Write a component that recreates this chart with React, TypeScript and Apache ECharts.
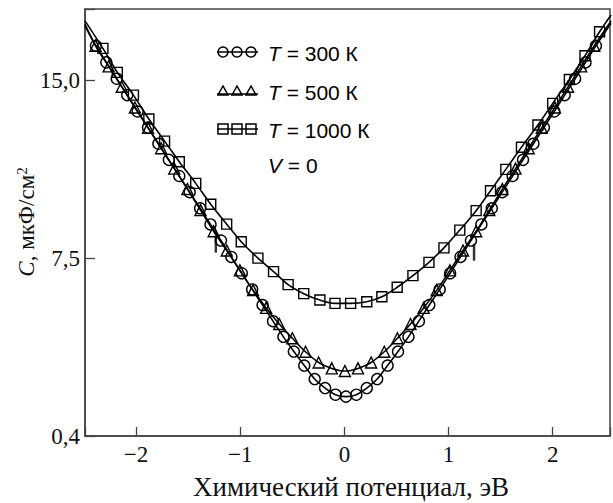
import React, { useEffect, useRef } from "react";
import * as echarts from "echarts";

// x-axis ticks and y-axis tick labels
const xTicks = [-2, -1, 0, 1, 2];
const yTickValues = [0, 7.5, 15];
const yTickLabels = ["0,4", "7,5", "15,0"];

// T = 300 K (circles)
const t300: [number, number][] = [
  [-2.385, 16.45], [-2.285, 15.75], [-2.185, 15.06], [-2.085, 14.37], [-1.985, 13.68],
  [-1.885, 13.0], [-1.785, 12.32], [-1.685, 11.64], [-1.585, 10.96], [-1.485, 10.28],
  [-1.385, 9.6], [-1.285, 8.92], [-1.185, 8.24], [-1.085, 7.55], [-0.985, 6.86],
  [-0.885, 6.18], [-0.785, 5.52], [-0.685, 4.84], [-0.585, 4.18], [-0.485, 3.56],
  [-0.385, 2.97], [-0.285, 2.4], [-0.185, 2.02], [-0.085, 1.74], [0.015, 1.66],
  [0.115, 1.74], [0.215, 2.02], [0.315, 2.4], [0.415, 2.97], [0.515, 3.56],
  [0.615, 4.18], [0.715, 4.84], [0.815, 5.52], [0.915, 6.18], [1.015, 6.86],
  [1.115, 7.55], [1.215, 8.24], [1.315, 8.92], [1.415, 9.6], [1.515, 10.28],
  [1.615, 10.96], [1.715, 11.64], [1.815, 12.32], [1.915, 13.0], [2.015, 13.68],
  [2.115, 14.37], [2.215, 15.06], [2.315, 15.75], [2.415, 16.45],
];
const t300Ends: [number, number][] = [[-2.49, 17.28], [2.56, 17.4]];

// T = 500 K (triangles)
const t500: [number, number][] = [
  [-2.389, 16.45], [-2.263, 15.58], [-2.137, 14.72], [-2.011, 13.85], [-1.885, 12.99],
  [-1.759, 12.13], [-1.633, 11.27], [-1.507, 10.41], [-1.381, 9.52], [-1.255, 8.63],
  [-1.129, 7.82], [-1.003, 6.98], [-0.877, 6.15], [-0.751, 5.4], [-0.625, 4.72],
  [-0.499, 4.12], [-0.373, 3.55], [-0.247, 3.1], [-0.121, 2.85], [0.005, 2.74],
  [0.131, 2.85], [0.257, 3.1], [0.383, 3.55], [0.509, 4.12], [0.635, 4.72],
  [0.761, 5.4], [0.887, 6.15], [1.013, 6.98], [1.139, 7.82], [1.265, 8.63],
  [1.391, 9.52], [1.517, 10.41], [1.643, 11.27], [1.769, 12.13], [1.895, 12.99],
  [2.021, 13.85], [2.147, 14.72], [2.273, 15.58], [2.399, 16.45],
];
const t500Ends: [number, number][] = [[-2.49, 17.35], [2.56, 17.5]];

// T = 1000 K (squares)
const t1000: [number, number][] = [
  [-2.318, 16.34], [-2.18, 15.33], [-2.025, 14.37], [-1.877, 13.36], [-1.726, 12.43],
  [-1.585, 11.56], [-1.427, 10.65], [-1.283, 9.77], [-1.13, 8.93], [-0.99, 8.19],
  [-0.83, 7.5], [-0.68, 6.93], [-0.54, 6.38], [-0.39, 6.0], [-0.235, 5.73],
  [-0.09, 5.59], [0.06, 5.59], [0.215, 5.66], [0.36, 5.87], [0.507, 6.27],
  [0.658, 6.76], [0.812, 7.32], [0.956, 7.93], [1.108, 8.68], [1.265, 9.5],
  [1.403, 10.34], [1.55, 11.24], [1.7, 12.17], [1.858, 13.11], [2.0, 14.02],
  [2.16, 15.03], [2.31, 16.03], [2.45, 17.04],
];
const t1000Ends: [number, number][] = [[-2.49, 17.5], [2.56, 17.75]];

// short vertical marks on the curves
const marks: [number, number][] = [[-1.234, 8.09], [1.245, 7.75]];

const SERIF = '"Liberation Serif", "Times New Roman", serif';
const SANS = '"Liberation Sans", Arial, sans-serif';

function withEnds(pts: [number, number][], ends: [number, number][]) {
  return [
    { value: ends[0], symbol: "none" },
    ...pts.map((p) => ({ value: p })),
    { value: ends[1], symbol: "none" },
  ];
}

export default function App() {
  const ref = useRef<HTMLDivElement>(null);
  useEffect(() => {
    if (!ref.current) return;
    const chart = echarts.init(ref.current, undefined, { renderer: "svg" });
    const markerStyle = { color: "rgba(255,255,255,0)", borderColor: "#000", borderWidth: 1.4 };
    const lineStyle = { color: "#000", width: 1.6 };
    const legendRows = [
      { y: 52, label: "{i|T} = 300 К", kind: "circle" },
      { y: 91, label: "{i|T} = 500 К", kind: "triangle" },
      { y: 129, label: "{i|T} = 1000 К", kind: "rect" },
      { y: 164, label: "{i|V} = 0", kind: "none" },
    ];
    const graphics: any[] = [];
    legendRows.forEach((r) => {
      if (r.kind !== "none") {
        const ly = r.kind === "triangle" ? r.y + 3 : r.y;
        graphics.push({
          type: "line",
          shape: { x1: 217, y1: ly, x2: 258, y2: ly },
          style: { stroke: "#000", lineWidth: 1.5 },
        });
        [223, 237, 251].forEach((cx) => {
          if (r.kind === "circle") {
            graphics.push({ type: "circle", shape: { cx, cy: r.y, r: 5 }, style: { fill: "none", stroke: "#000", lineWidth: 1.5 } });
          } else if (r.kind === "triangle") {
            graphics.push({
              type: "polygon",
              shape: { points: [[cx, r.y - 5], [cx - 5, r.y + 4], [cx + 5, r.y + 4]] },
              style: { fill: "none", stroke: "#000", lineWidth: 1.5 },
            });
          } else {
            graphics.push({ type: "rect", shape: { x: cx - 5, y: r.y - 5, width: 10, height: 10 }, style: { fill: "none", stroke: "#000", lineWidth: 1.5 } });
          }
        });
      }
      graphics.push({
        type: "text",
        x: 268,
        y: r.y + 1,
        style: {
          text: r.label,
          fontFamily: SANS,
          fontSize: 21,
          fill: "#000",
          align: "left",
          verticalAlign: "middle",
          rich: { i: { fontStyle: "italic", fontFamily: SANS, fontSize: 21, fill: "#000" } },
        },
      });
    });
    graphics.push({
      type: "text",
      x: 351,
      y: 487,
      style: {
        text: "Химический потенциал, эВ",
        fontFamily: SERIF,
        fontSize: 27,
        fill: "#111",
        align: "center",
        verticalAlign: "middle",
      },
    });
    graphics.push({
      type: "text",
      x: 26,
      y: 222,
      rotation: Math.PI / 2,
      style: {
        text: "{i|C}, мкФ/см{s|2}",
        fontFamily: SERIF,
        fontSize: 23,
        fill: "#111",
        align: "center",
        verticalAlign: "middle",
        rich: {
          i: { fontStyle: "italic", fontFamily: SERIF, fontSize: 23, fill: "#111" },
          s: { fontFamily: SERIF, fontSize: 15, verticalAlign: "top", fill: "#111" },
        },
      },
    });

    chart.setOption({
      animation: false,
      backgroundColor: "#fff",
      grid: { left: 85, top: 9, width: 534, height: 427, show: true, borderColor: "#444", borderWidth: 1.5, backgroundColor: "transparent" },
      xAxis: {
        type: "value",
        min: -2.49,
        max: 2.55,
        splitNumber: 5,
        axisLine: { show: true, onZero: false, lineStyle: { color: "#444", width: 1.5 } },
        axisTick: { show: true, inside: true, length: 9, lineStyle: { color: "#444", width: 1.3 } },
        splitLine: { show: false },
        axisLabel: {
          margin: 7,
          fontFamily: SERIF,
          fontSize: 23,
          color: "#111",
          formatter: (v: number) => {
            const n = Math.round(v);
            if (Math.abs(v - n) > 1e-6 || !xTicks.includes(n)) return "";
            return n < 0 ? "\u2212" + Math.abs(n) : String(n);
          },
        },
      },
      yAxis: {
        type: "value",
        min: 0,
        max: 18,
        interval: 7.5,
        axisLine: { show: true, onZero: false, lineStyle: { color: "#444", width: 1.5 } },
        axisTick: { show: true, inside: true, length: 10, lineStyle: { color: "#444", width: 1.3 } },
        splitLine: { show: false },
        axisLabel: {
          margin: 5,
          fontFamily: SERIF,
          fontSize: 23,
          color: "#111",
          formatter: (v: number) => {
            const i = yTickValues.findIndex((t) => Math.abs(t - v) < 1e-6);
            return i >= 0 ? yTickLabels[i] : "";
          },
        },
      },
      series: [
        {
          type: "line",
          name: "T = 1000 К",
          data: withEnds(t1000, t1000Ends),
          smooth: 0.3,
          symbol: "rect",
          symbolSize: 10,
          lineStyle,
          itemStyle: markerStyle,
          z: 3,
        },
        {
          type: "line",
          name: "T = 500 К",
          data: withEnds(t500, t500Ends),
          smooth: 0.3,
          symbol: "triangle",
          symbolSize: 11,
          lineStyle,
          itemStyle: markerStyle,
          z: 4,
        },
        {
          type: "line",
          name: "T = 300 К",
          data: withEnds(t300, t300Ends),
          smooth: 0.3,
          symbol: "circle",
          symbolSize: 11,
          lineStyle,
          itemStyle: markerStyle,
          z: 5,
        },
        {
          type: "scatter",
          data: marks,
          symbol: "rect",
          symbolSize: [2.5, 17],
          itemStyle: { color: "#000" },
          z: 6,
        },
      ],
      graphic: graphics,
    });
    return () => chart.dispose();
  }, []);
  return <div ref={ref} style={{ position: "absolute", left: 0, top: 0, width: 613, height: 503 }} />;
}
